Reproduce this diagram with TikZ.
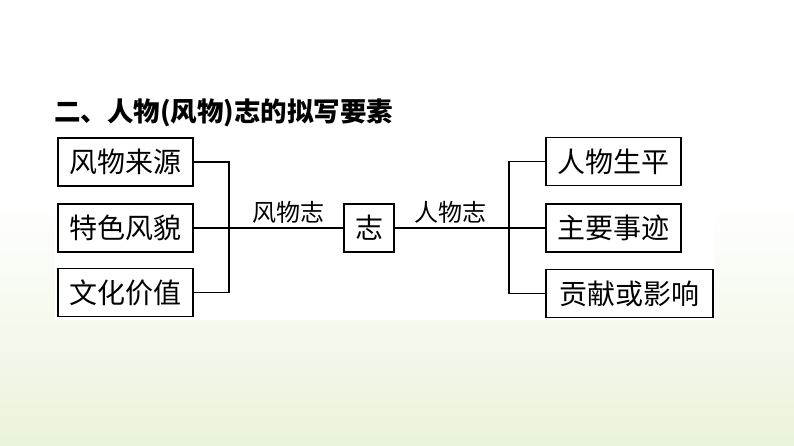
\documentclass[tikz,border=0pt]{standalone}
\usepackage{fontspec}
\setmainfont{Noto Sans CJK SC}
\usetikzlibrary{positioning}
\definecolor{paleleaf}{RGB}{234,243,220}

\begin{document}
\begin{tikzpicture}[x=1pt, y=1pt, line width=1.8pt,
        itembox/.style = {draw, inner sep=0pt, minimum width=135pt, minimum height=48pt,
                          font=\fontsize{28}{28}\selectfont},
        linklabel/.style = {font=\fontsize{24}{24}\selectfont}]
    \useasboundingbox (0,0) rectangle (794,-446);
    % background
    \fill[white] (0,0) rectangle (794,-446);
    \shade[top color=white, bottom color=paleleaf] (0,-200) rectangle (794,-446);
    \fill[white] (55,-135) rectangle (715,-320);

    \node [anchor=west, font=\fontsize{26.5}{26.5}\selectfont\bfseries] (title) at (50,-113) {二、人物(风物)志的拟写要素};

    % left side
    \node [itembox] (source) at (125.5,-162) {风物来源};
    \node [itembox] (feature) at (125.5,-228) {特色风貌};
    \node [itembox] (value) at (125.5,-292.5) {文化价值};
    \coordinate (ljoin) at (229,-228);

    % centre
    \node [itembox, minimum width=50pt] (zhi) at (369,-228) {志};

    % right side
    \node [itembox] (life) at (613.5,-161.5) {人物生平};
    \node [itembox] (deeds) at (613.5,-228) {主要事迹};
    \node [itembox, minimum width=167pt] (impact) at (629.5,-293.5) {贡献或影响};
    \coordinate (rjoin) at (509,-228);

    \draw (source.east) -| (ljoin);
    \draw (value.east) -| (ljoin);
    \draw (feature.east) -- (zhi.west);
    \draw (zhi.east) -- (deeds.west);
    \draw (life.west) -| (rjoin);
    \draw (impact.west) -| (rjoin);

    \node [linklabel] (wulabel) at (288,-212) {风物志};
    \node [linklabel] (renlabel) at (450,-212) {人物志};
\end{tikzpicture}
\end{document}
